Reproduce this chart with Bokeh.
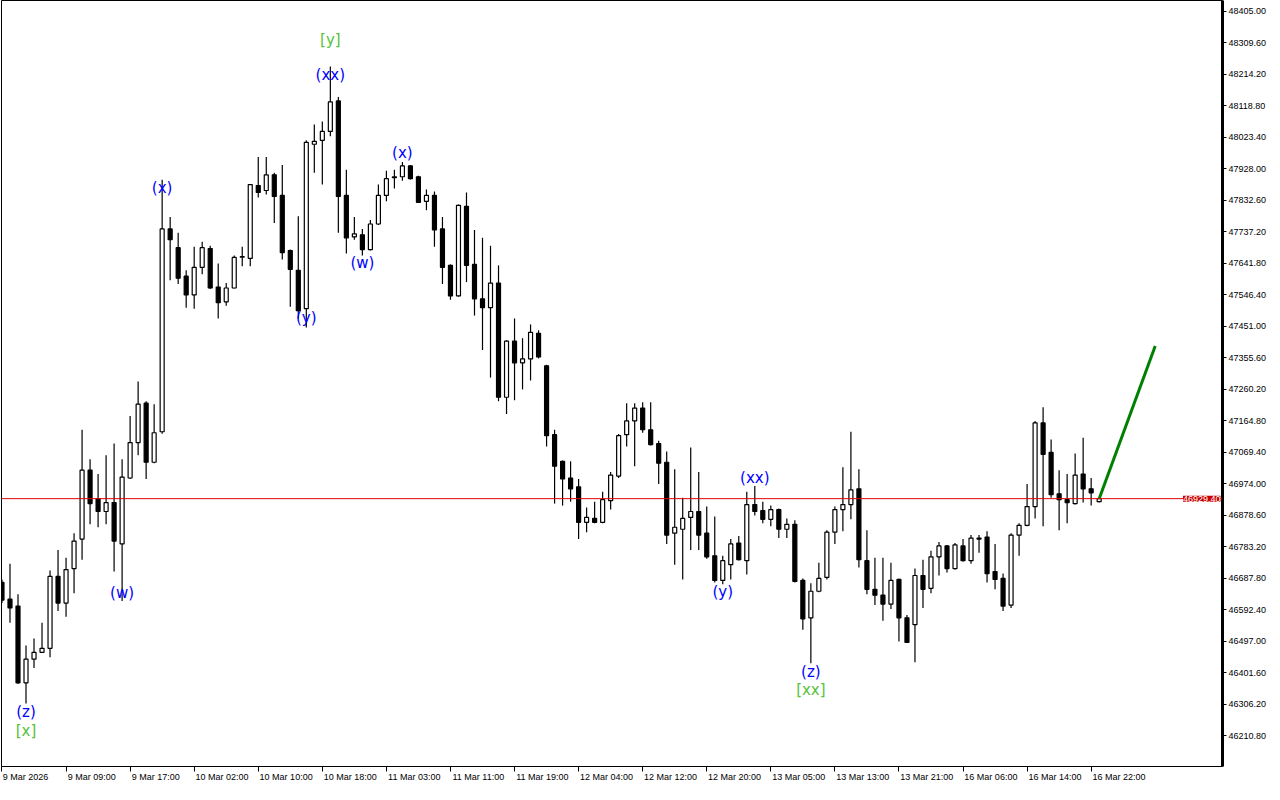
from bokeh.plotting import figure
from bokeh.models import Range1d, FixedTicker, Span, Label, NumeralTickFormatter, ColumnDataSource, LinearAxis
from bokeh.embed import file_html
from bokeh.resources import INLINE
from bokeh.core.properties import value

# ---- data (H1 candles, 9 Mar 2026 01:00 .. 16 Mar 23:00) ----
opens = [46675.9, 46625.2, 46604.3, 46371.8, 46443.3, 46464.2, 46476.1, 46693.8, 46613.3, 46717.6,
         46807.1, 47015.7, 46929.3, 46890.5, 46917.4, 46792.2, 46991.9, 47099.2, 47218.5, 47039.6,
         47132.0, 47746.2, 47689.5, 47603.1, 47546.4, 47629.9, 47686.5, 47570.3, 47525.5, 47567.3,
         47660.5, 47656.7, 47877.3, 47862.5, 47910.1, 47847.5, 47680.6, 47620.9, 47504.7, 48002.5,
         48014.5, 48041.3, 48133.7, 47847.5, 47722.3, 47728.2, 47683.5, 47761.0, 47847.5, 47901.2,
         47904.1, 47937.0, 47904.1, 47829.6, 47847.5, 47746.2, 47635.8, 47543.4, 47814.7, 47638.8,
         47534.5, 47507.7, 47582.2, 47236.4, 47406.3, 47340.7, 47352.6, 47430.1, 47331.8, 47123.1,
         47042.6, 46991.9, 46965.1, 46857.7, 46869.6, 46857.7, 46923.3, 46997.9, 47123.1, 47164.8,
         47203.6, 47138.0, 47096.2, 47039.6, 46824.9, 46836.8, 46872.6, 46890.5, 46824.9, 46756.4,
         46681.9, 46729.5, 46795.1, 46741.5, 46911.4, 46893.5, 46866.7, 46896.5, 46836.8, 46851.8,
         46681.9, 46568.6, 46649.0, 46690.8, 46827.9, 46896.5, 46911.4, 46959.1, 46741.5, 46655.0,
         46637.1, 46610.3, 46684.8, 46568.6, 46547.7, 46696.8, 46658.0, 46753.4, 46786.2, 46717.6,
         46786.2, 46741.5, 46810.0, 46813.0, 46708.7, 46687.8, 46607.3, 46819.0, 46848.8, 46905.4,
         47158.8, 47069.4, 46944.2, 46926.3, 46914.4, 47003.8, 46959.1, 46920.3]
highs = [46684.8, 46732.5, 46640.1, 46485.1, 46506.0, 46553.7, 46711.7, 46774.3, 46750.4, 46824.9,
         47138.0, 47048.5, 47003.8, 47060.5, 47096.2, 47048.5, 47179.7, 47284.1, 47224.4, 47215.5,
         47895.2, 47781.9, 47734.2, 47620.9, 47692.5, 47707.4, 47695.5, 47641.8, 47582.2, 47665.7,
         47692.5, 47882.0, 47963.8, 47963.8, 47916.1, 47939.9, 47683.5, 47784.9, 48014.5, 48062.2,
         48071.1, 48238.1, 48145.6, 47925.0, 47781.9, 47746.2, 47772.9, 47880.3, 47922.0, 47925.0,
         47948.9, 47939.9, 47907.1, 47865.4, 47859.5, 47781.9, 47638.8, 47820.0, 47856.5, 47743.2,
         47719.3, 47695.5, 47635.8, 47409.0, 47474.9, 47415.2, 47457.0, 47439.1, 47334.7, 47138.0,
         47045.0, 47042.6, 46988.9, 46902.5, 46920.3, 46950.2, 47009.8, 47125.0, 47218.5, 47218.5,
         47221.4, 47221.4, 47105.1, 47072.4, 47018.7, 46932.3, 47084.3, 47009.8, 46905.4, 46875.6,
         46756.4, 46807.1, 46816.0, 46950.2, 46968.1, 46920.3, 46908.4, 46899.5, 46869.6, 46863.7,
         46687.8, 46672.9, 46735.5, 46833.8, 46905.4, 47024.7, 47132.0, 47018.7, 46833.8, 46750.4,
         46750.4, 46735.5, 46687.0, 46577.5, 46717.6, 46744.5, 46771.3, 46798.1, 46789.2, 46795.1,
         46807.1, 46819.0, 46819.0, 46830.9, 46792.2, 46702.7, 46824.9, 46854.8, 46973.9, 47164.8,
         47206.5, 47108.2, 47015.7, 47003.8, 47066.4, 47114.1, 46991.9, 46932.0]
lows = [46613.3, 46553.7, 46368.8, 46309.2, 46416.5, 46462.0, 46449.3, 46589.4, 46571.5, 46643.1,
        46744.5, 46851.8, 46842.8, 46851.8, 46708.7, 46619.2, 46988.9, 47060.5, 46988.9, 47037.0,
        47126.0, 47591.1, 47579.2, 47507.7, 47504.7, 47609.0, 47564.3, 47474.9, 47513.7, 47566.0,
        47632.9, 47632.9, 47841.6, 47850.5, 47764.0, 47653.7, 47510.6, 47474.9, 47448.0, 47916.1,
        47880.3, 48026.4, 47734.2, 47671.6, 47713.4, 47665.7, 47681.0, 47758.0, 47829.6, 47868.4,
        47892.2, 47896.0, 47826.0, 47802.8, 47692.5, 47579.2, 47531.5, 47541.0, 47585.2, 47483.8,
        47379.5, 47296.0, 47224.4, 47185.7, 47227.4, 47260.2, 47287.1, 47354.0, 47087.3, 46914.4,
        46908.4, 46920.3, 46807.1, 46827.9, 46854.8, 46854.8, 46896.5, 46991.9, 47087.3, 47027.7,
        47129.0, 47090.3, 46973.9, 46792.2, 46729.5, 46684.8, 46774.3, 46774.3, 46747.4, 46675.9,
        46670.0, 46684.8, 46742.0, 46699.7, 46878.6, 46854.8, 46845.8, 46810.0, 46810.0, 46675.9,
        46532.8, 46431.4, 46646.0, 46684.8, 46792.2, 46830.9, 46866.7, 46720.6, 46640.1, 46607.3,
        46559.6, 46595.4, 46497.0, 46492.0, 46434.4, 46598.4, 46643.1, 46696.8, 46705.7, 46715.0,
        46739.0, 46732.5, 46765.3, 46675.9, 46655.0, 46589.4, 46598.4, 46756.4, 46845.8, 46869.6,
        46845.8, 46932.3, 46833.8, 46854.8, 46912.0, 46917.4, 46908.4, 46918.0]
closes = [46622.2, 46598.4, 46371.8, 46443.3, 46464.2, 46476.1, 46693.8, 46613.3, 46714.6, 46801.1,
          47015.7, 46914.4, 46890.5, 46917.4, 46801.1, 46994.9, 47099.2, 47215.5, 47039.6, 47129.0,
          47746.2, 47713.4, 47597.1, 47546.4, 47629.9, 47689.5, 47567.3, 47522.6, 47567.3, 47659.7,
          47662.0, 47880.3, 47856.5, 47910.1, 47844.5, 47674.6, 47623.9, 47498.7, 48008.5, 48011.5,
          48041.3, 48130.7, 47844.5, 47719.3, 47731.2, 47683.5, 47761.0, 47847.5, 47898.2, 47904.1,
          47937.0, 47898.2, 47826.6, 47847.5, 47743.2, 47629.9, 47543.4, 47817.7, 47635.8, 47534.5,
          47507.7, 47582.2, 47236.4, 47406.3, 47340.7, 47352.6, 47433.1, 47358.6, 47120.1, 47027.7,
          46988.9, 46959.1, 46857.7, 46872.6, 46857.7, 46926.3, 47000.8, 47120.1, 47164.8, 47203.6,
          47138.0, 47093.2, 47036.6, 46819.0, 46842.8, 46869.6, 46890.5, 46819.0, 46753.4, 46681.9,
          46741.5, 46792.2, 46744.5, 46911.4, 46890.5, 46866.7, 46896.5, 46836.8, 46851.8, 46678.9,
          46565.6, 46649.0, 46687.8, 46827.9, 46896.5, 46911.4, 46956.2, 46744.5, 46655.0, 46637.1,
          46610.3, 46681.9, 46568.6, 46494.0, 46696.8, 46655.0, 46753.4, 46786.2, 46717.6, 46789.2,
          46741.5, 46810.0, 46807.1, 46702.7, 46684.8, 46604.3, 46819.0, 46848.8, 46905.4, 47158.8,
          47063.5, 46941.2, 46926.3, 46917.4, 47000.8, 46959.1, 46947.2, 46929.4]

time_tick_bars = [0, 8, 16, 24, 32, 40, 48, 56, 64, 72, 80, 88, 96, 104, 112, 120, 128, 136]
time_tick_labels = ["9 Mar 2026", "9 Mar 09:00", "9 Mar 17:00", "10 Mar 02:00", "10 Mar 10:00",
                    "10 Mar 18:00", "11 Mar 03:00", "11 Mar 11:00", "11 Mar 19:00", "12 Mar 04:00",
                    "12 Mar 12:00", "12 Mar 20:00", "13 Mar 05:00", "13 Mar 13:00", "13 Mar 21:00",
                    "16 Mar 06:00", "16 Mar 14:00", "16 Mar 22:00"]
price_ticks = [46210.8, 46306.2, 46401.6, 46497.0, 46592.4, 46687.8, 46783.2, 46878.6, 46974.0,
               47069.4, 47164.8, 47260.2, 47355.6, 47451.0, 47546.4, 47641.8, 47737.2, 47832.6,
               47928.0, 48023.4, 48118.8, 48214.2, 48309.6, 48405.0]
last_price = 46929.4
forecast_bars = [137, 144]
forecast_prices = [46929.4, 47391.4]
wave_bars = [3, 3, 15, 20, 38, 41, 41, 45, 50, 90, 94, 101, 101]
wave_prices = [46282.4, 46225.7, 46643.1, 47871.4, 47477.8, 48211.2, 48318.6, 47641.8,
               47975.7, 46646.1, 46991.9, 46404.6, 46350.9]
wave_texts = ["(z)", "[x]", "(w)", "(x)", "(y)", "(xx)", "[y]", "(w)", "(x)", "(y)",
              "(xx)", "(z)", "[xx]"]

# ---- layout ----
W, H = 1272, 784
BORDER_L, BORDER_R = 1, 50
X0, X1 = -0.06, 152.4
px_per_bar = (W - BORDER_L - BORDER_R) / (X1 - X0)

p = figure(width=W, height=H, output_backend="svg", toolbar_location=None,
           x_range=Range1d(X0, X1), y_range=Range1d(46118.4, 48437.8),
           y_axis_location="right", min_border_left=BORDER_L, min_border_top=0,
           min_border_right=BORDER_R, min_border_bottom=10)
p.xgrid.visible = False
p.ygrid.visible = False
p.outline_line_color = "black"
p.outline_line_width = 1
p.background_fill_color = "white"
p.border_fill_color = "white"

idx = list(range(len(opens)))
tops = [max(o, c) for o, c in zip(opens, closes)]
bots = [min(o, c) for o, c in zip(opens, closes)]
fills = ["white" if c >= o else "black" for o, c in zip(opens, closes)]
src = ColumnDataSource(dict(x=idx, o=opens, h=highs, l=lows, c=closes, top=tops, bot=bots, fill=fills))

p.add_layout(Span(location=last_price, dimension="width", line_color="#e00000", line_width=1))
p.segment(x0="x", y0="l", x1="x", y1="h", source=src, line_color="black", line_width=1.2)
p.vbar(x="x", width=0.5, top="top", bottom="bot", source=src, fill_color="fill",
       line_color="black", line_width=1.2)

p.line(forecast_bars, forecast_prices, line_color="#008000", line_width=3)

wsrc = ColumnDataSource(dict(x=wave_bars, y=wave_prices, t=wave_texts,
                             col=["#55c23a" if t.startswith("[") else "#0000ff" for t in wave_texts]))
p.text(x="x", y="y", text="t", source=wsrc, text_color="col", text_align="center",
       text_baseline="middle", text_font=value("DejaVu Sans"), text_font_size="15px")

# x axis: tick marks at bar positions, labels (left-aligned to the tick) on a second axis
xa = p.xaxis[0]
xa.ticker = FixedTicker(ticks=time_tick_bars)
xa.major_label_overrides = {b: "" for b in time_tick_bars}
xa.minor_tick_line_color = None
xa.major_tick_in = 0
xa.major_tick_out = 5
xa.major_label_standoff = 0
xa.major_label_text_font_size = "1px"
xa.axis_line_color = "black"

lab_pos = [round(b + (len(t) * 4.4 / 2 + 1.5) / px_per_bar, 2) for b, t in zip(time_tick_bars, time_tick_labels)]
xb = LinearAxis(ticker=FixedTicker(ticks=lab_pos),
                major_label_overrides={pos: t for pos, t in zip(lab_pos, time_tick_labels)})
xb.minor_tick_line_color = None
xb.major_tick_line_color = None
xb.major_tick_in = 0
xb.major_tick_out = 0
xb.axis_line_color = None
xb.major_label_standoff = 0
xb.major_label_text_font = "Liberation Sans"
xb.major_label_text_font_size = "9px"
xb.major_label_text_color = "black"
p.add_layout(xb, "below")

ya = p.yaxis[0]
ya.ticker = FixedTicker(ticks=price_ticks)
ya.formatter = NumeralTickFormatter(format="0.00")
ya.minor_tick_line_color = None
ya.major_tick_in = 0
ya.major_tick_out = 4
ya.major_label_standoff = 2
ya.major_label_text_font = "Liberation Sans"
ya.major_label_text_font_size = "9px"
ya.major_label_text_color = "black"
ya.axis_line_color = "black"
ya.axis_line_width = 3

# current price tag on the price scale
price_text = "%.2f" % last_price
tag = Label(x=X1, y=last_price, x_offset=3, text=price_text,
            text_align="left", text_baseline="middle", text_color="white",
            text_font="Liberation Sans", text_font_size="9px",
            background_fill_color="#c80000")
unclipped = False
try:
    tag.clip = False
    unclipped = True
except Exception:
    unclipped = False
if not unclipped:
    tag = Label(x=X1, y=last_price, x_offset=-2, text=price_text,
                text_align="right", text_baseline="middle", text_color="white",
                text_font="Liberation Sans", text_font_size="9px",
                background_fill_color="#c80000")
p.add_layout(tag)

open("out.html", "w").write(file_html(p, INLINE))
